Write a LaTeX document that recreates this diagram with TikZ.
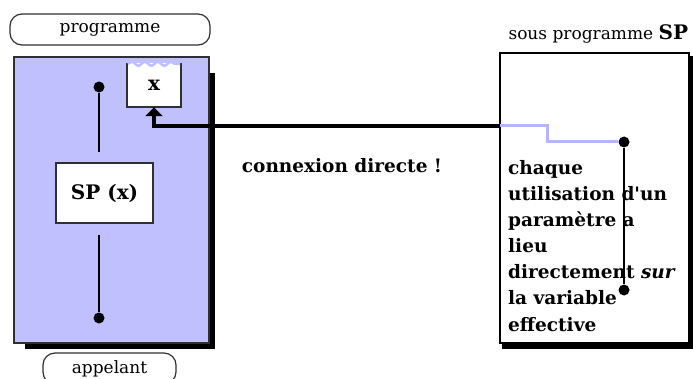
\documentclass[tikz,border=0pt]{standalone}
\usepackage{fontspec}
\setmainfont{DejaVu Serif}
\usepackage{tikz}
\usetikzlibrary{arrows.meta,calc,positioning,decorations.pathmorphing}
\definecolor{caller}{HTML}{C0C0FF}
\definecolor{param}{HTML}{B4B4FF}
\definecolor{edge}{HTML}{303030}

\begin{document}
\begin{tikzpicture}[x=1pt,y=-1pt,
    pill/.style={draw=edge,line width=1.2pt,rounded corners=12pt,minimum width=200pt,minimum height=31pt,inner sep=0pt,font=\fontsize{17}{20}\selectfont},
    box/.style={draw=edge,line width=1.3pt,inner sep=0pt},
    dot/.style={circle,fill=black,inner sep=0pt,minimum size=11pt},
    wire/.style={black,line width=1.8pt},
    link/.style={black,line width=4pt,-{Triangle[width=17pt,length=9pt]}},
    strong/.style={font=\fontsize{18.5}{22}\selectfont\bfseries}]
  \useasboundingbox (0,0) rectangle (693,379);
  % labels of the caller
  \node[pill] (prog) at (110,29.5) {programme};
  \node[pill,minimum width=133pt] (app) at (109.5,368.5) {appelant};
  % the two frames
  \node[box,fill=caller,minimum width=195pt,minimum height=286pt] (caller) at (111.5,200) {};
  \node[box,draw=black,line width=1.8pt,minimum width=189pt,minimum height=290pt] (callee) at (594.5,198) {};
  \fill ($(caller.north east)+(0,17)$) rectangle ($(caller.south east)+(5,5)$);
  \fill ($(caller.south west)+(12,0)$) rectangle ($(caller.south east)+(5,5)$);
  \fill ($(callee.north east)+(0,4)$) rectangle ($(callee.south east)+(4,5)$);
  \fill ($(callee.south west)+(3,0)$) rectangle ($(callee.south east)+(4,5)$);
  \node[anchor=base west,font=\fontsize{17}{20}\selectfont] (title) at (505,40) {sous programme {\fontsize{20}{20}\selectfont\bfseries SP}};
  % inside the caller
  \node[box,fill=white,minimum width=97pt,minimum height=60pt,font=\fontsize{20}{22}\selectfont\bfseries] (sp) at (104.5,193) {SP (x)};
  \node[fill=white,minimum width=54pt,minimum height=44pt,inner sep=0pt,font=\fontsize{20}{22}\selectfont\bfseries] (var) at (154,85) {x};
  \draw[wire,edge] (var.north west) -- (var.south west) -- (var.south east) -- (var.north east);
  \draw[caller,line width=2.5pt,decorate,decoration={snake,amplitude=2pt,segment length=13pt}] ($(var.north west)+(1,1)$) -- ($(var.north east)+(-1,1)$);
  \node[dot] (ltop) at (99,87) {};
  \node[dot] (lbot) at (99,318) {};
  \draw[wire,shorten >=10pt] (ltop) -- (ltop |- sp.north);
  \draw[wire,shorten <=11pt] (lbot |- sp.south) -- (lbot);
  % direct connection
  \node[strong] (note) at (342,166) {connexion directe !};
  \coordinate (entry) at (500,126);
  \draw[link] (entry) -| (var.south);
  % inside the sub-program
  \foreach \t [count=\i] in {chaque,utilisation d\textquotesingle un,paramètre a,lieu,directement \textit{sur},la variable,effective}{
    \node[strong,anchor=base west,inner sep=0pt] (line\i) at (508,149+26*\i) {\t};
  }
  \node[dot] (dtop) at (624,142) {};
  \node[dot] (dbot) at (624,290) {};
  \draw[param,line width=3pt] (entry) -- ++(47,0) |- (dtop);
  \draw[wire] (dtop) -- (dbot);
\end{tikzpicture}
\end{document}
